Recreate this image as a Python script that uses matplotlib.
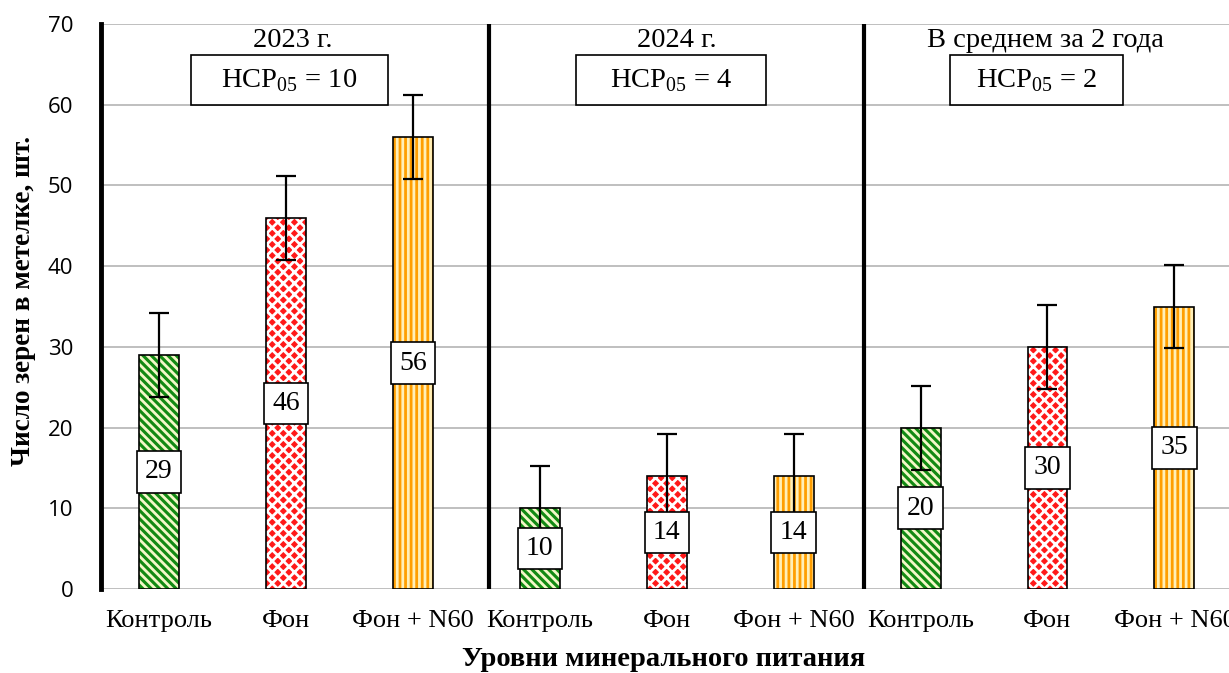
import numpy as np
import matplotlib
matplotlib.use("Agg")
import matplotlib.pyplot as plt
from matplotlib.patches import Rectangle

plt.rcParams['mathtext.fontset'] = 'custom'
plt.rcParams['mathtext.rm'] = 'Liberation Serif'
plt.rcParams['hatch.linewidth'] = 2.0

# grain count per panicle, three groups x three treatments
categories = ['Контроль', 'Фон', 'Фон + N60'] * 3
values = [29, 46, 56, 10, 14, 14, 20, 30, 35]
errors = [5.2] * 9
group_titles = ['2023 г.', '2024 г.', 'В среднем за 2 года']
hcp_values = [10, 4, 2]

colors = ['#138A13', '#FF1A1A', '#FF9E00']
hatch_colors = ['#F4F8C8', '#FFFFFF', '#FFEFB8']
hatches = ['\\\\\\\\', 'xxx', '|||']

fig = plt.figure(figsize=(12.29, 6.73), dpi=100)
ax = fig.add_axes([101 / 1229, 84 / 673, 1 - 101 / 1229, 565 / 673])

x = np.arange(len(values))
width = 0.315
for i, v in enumerate(values):
    k = i % 3
    ax.bar(x[i], v, width, color=colors[k], hatch=hatches[k],
           edgecolor=hatch_colors[k], linewidth=0, zorder=2)
    ax.bar(x[i], v, width, facecolor='none', edgecolor='black',
           linewidth=1.2, zorder=2.5)

ax.errorbar(x, values, yerr=errors, fmt='none', ecolor='black',
            elinewidth=1.6, capsize=7, capthick=1.6, zorder=3)

for xi, v in zip(x, values):
    ax.text(xi, v / 2, str(v), ha='center', va='center', fontsize=20,
            family='Liberation Serif', zorder=4,
            bbox=dict(boxstyle='square,pad=0.3', facecolor='white',
                      edgecolor='black', linewidth=1.2))

ax.set_xlim(-0.457, 8.43)
ax.set_ylim(0, 70)
ax.set_yticks(range(0, 71, 10))
ax.set_xticks(x)
ax.set_xticklabels(categories, family='Liberation Serif', fontsize=19)
ax.tick_params(axis='x', length=0, pad=15)
ax.tick_params(axis='y', length=0, pad=20, labelsize=16)
for lbl in ax.get_yticklabels():
    lbl.set_family('Open Sans')

ax.grid(axis='y', color='#B4B4B4', linewidth=1.2, zorder=0)
ax.set_axisbelow(True)
for side in ['top', 'right', 'bottom']:
    ax.spines[side].set_visible(False)
ax.spines['left'].set_linewidth(3.5)

# separators between groups
for xd in [2.60, 5.556]:
    ax.axvline(xd, color='black', linewidth=3, zorder=5)

title_x = [1.056, 4.08, 6.98]
box_x = [1.028, 4.035, 6.915]
box_w = [196 / 126.9, 190 / 126.9, 173 / 126.9]
for tx, bx, bw, t, h in zip(title_x, box_x, box_w, group_titles, hcp_values):
    ax.text(tx, 68.0, t, ha='center', va='center', fontsize=20.5,
            family='Liberation Serif')
    ax.add_patch(Rectangle((bx - bw / 2, 60.0), bw, 6.2, facecolor='white',
                           edgecolor='black', linewidth=1.2, zorder=4))
    ax.text(bx, 63.0, r'НСР$_{\mathrm{05}}$ = ' + str(h), ha='center',
            va='center', fontsize=20.5, family='Liberation Serif', zorder=5)

fig.text(24 / 1229, 1 - 301 / 673, 'Число зерен в метелке, шт.', rotation=90,
         ha='center', va='center', fontsize=19.5, fontweight='bold',
         family='Liberation Serif')
fig.text(664 / 1229, 1 - 659 / 673, 'Уровни минерального питания',
         ha='center', va='center', fontsize=20.5, fontweight='bold',
         family='Liberation Serif')

fig.savefig('out.png', dpi=100)
